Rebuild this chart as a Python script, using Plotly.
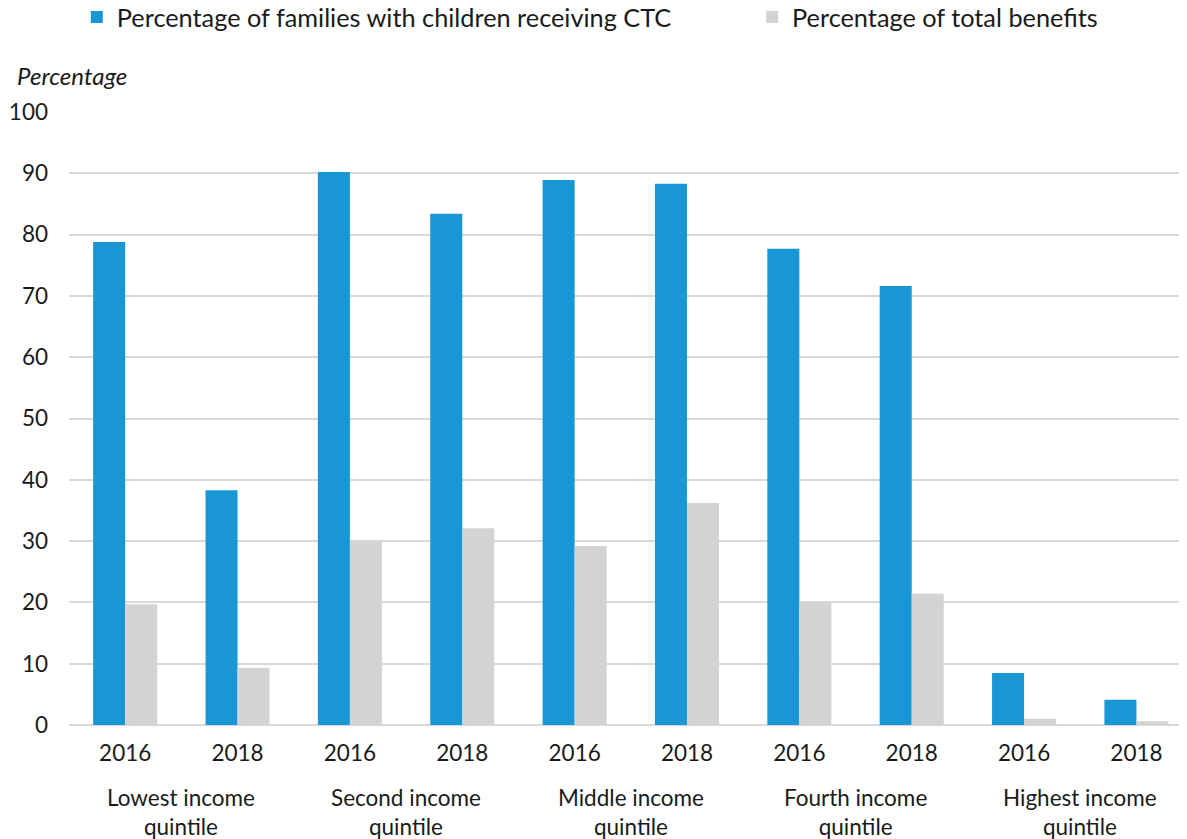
import plotly.graph_objects as go

years = ["2016", "2018"] * 5
groups = ["Lowest income<br>quintile", "Second income<br>quintile", "Middle income<br>quintile",
          "Fourth income<br>quintile", "Highest income<br>quintile"]
ctc_share = [78.8, 38.3, 90.2, 83.4, 88.9, 88.3, 77.7, 71.6, 8.5, 4.1]
benefit_share = [19.7, 9.3, 30.0, 32.1, 29.2, 36.2, 20.1, 21.4, 1.0, 0.6]
y_ticks = [0, 10, 20, 30, 40, 50, 60, 70, 80, 90, 100]

FONT = "Lato"
TXT = "#1a1a1a"
x_idx = list(range(len(years)))

fig = go.Figure()
fig.add_trace(go.Bar(x=x_idx, y=ctc_share, name="Percentage of families with children receiving CTC",
                     marker=dict(color="#1997d4", line=dict(width=0)), legend="legend",
                     showlegend=True))
fig.add_trace(go.Bar(x=x_idx, y=benefit_share, name="Percentage of total benefits",
                     marker=dict(color="#d3d3d3", line=dict(width=0)), legend="legend2",
                     showlegend=True))

for i, g in enumerate(groups):
    fig.add_annotation(x=2 * i + 0.5, xref="x", y=-0.093, yref="paper", yanchor="top",
                       text=g, showarrow=False, font=dict(family=FONT, size=22.5, color=TXT))

fig.add_annotation(x=-0.0483, xref="paper", xanchor="left", y=1.060, yref="paper", yanchor="middle",
                   text="<i>Percentage</i>", showarrow=False,
                   font=dict(family=FONT, size=24, color=TXT))

leg_common = dict(orientation="h", y=1.155, yanchor="middle", xanchor="left",
                  font=dict(family=FONT, size=25.3, color=TXT), bgcolor="rgba(0,0,0,0)")

fig.update_layout(
    width=1179, height=831, showlegend=True,
    margin=dict(l=61, r=0, t=104, b=114, autoexpand=False),
    plot_bgcolor="white", paper_bgcolor="white",
    barmode="group", bargap=0.43, bargroupgap=0,
    font=dict(family=FONT, size=22.5, color=TXT),
    legend=dict(x=0.007, **leg_common),
    legend2=dict(x=0.611, **leg_common),
    xaxis=dict(tickmode="array", tickvals=x_idx, ticktext=years, range=[-0.5, 9.45],
               showgrid=False, showline=False, ticks="", tickfont=dict(size=22.5),
               ticklabelstandoff=12),
    yaxis=dict(range=[0, 100], tickmode="array", tickvals=y_ticks, showgrid=True,
               gridcolor="#d9d9d9", gridwidth=2, zeroline=True, zerolinecolor="#d9d9d9",
               zerolinewidth=2, showline=False, ticks="", ticklabelstandoff=20,
               tickfont=dict(size=22.5)),
)

fig.write_html("out.html")
